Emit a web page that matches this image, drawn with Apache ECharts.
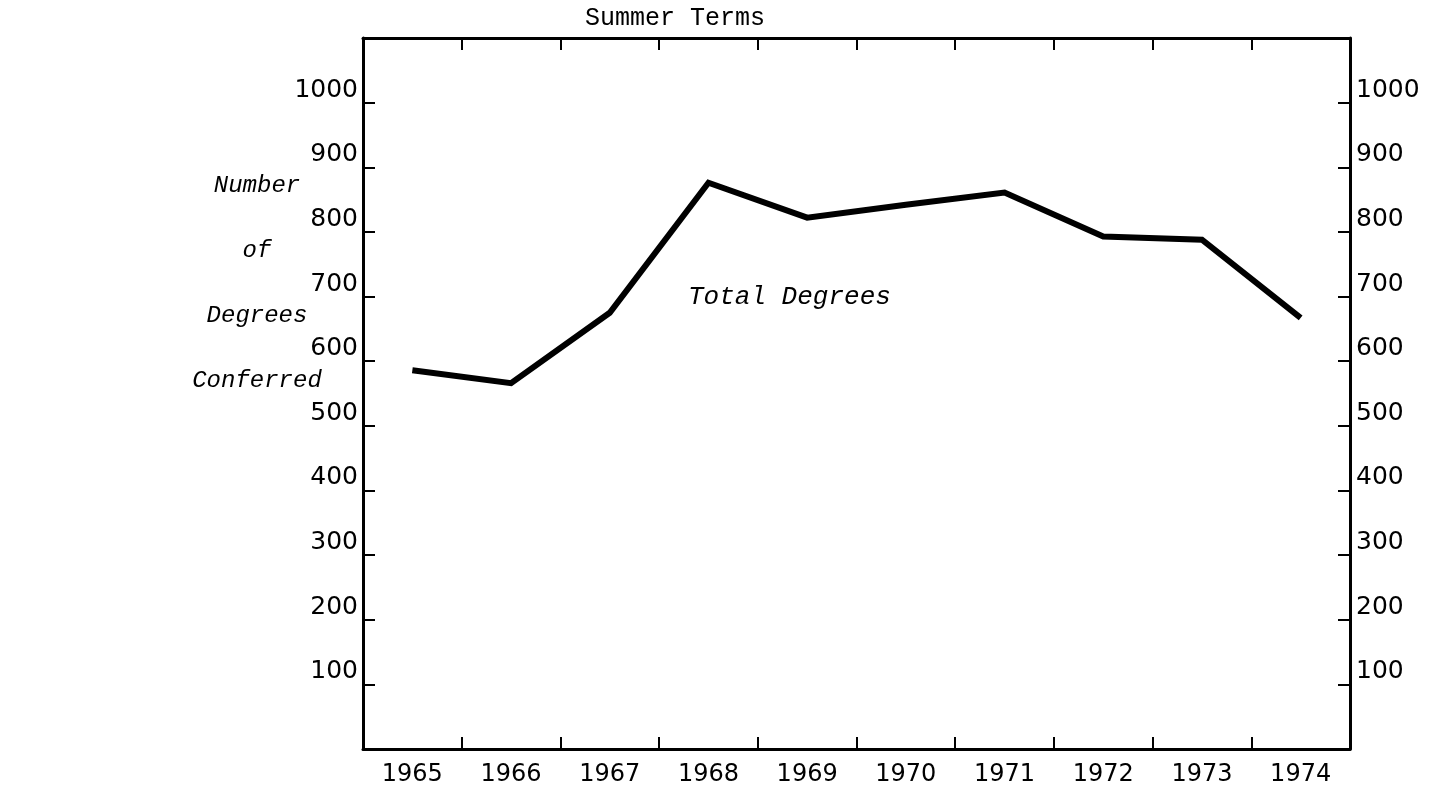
<!DOCTYPE html>
<html>
<head>
<meta charset="utf-8">
<title>Summer Terms</title>
<script src="https://cdn.jsdelivr.net/npm/echarts@6/dist/echarts.min.js"></script>
<style>
  html, body { margin: 0; padding: 0; background: #fff; }
  #chart { width: 1437px; height: 787px; }
</style>
</head>
<body>
<div id="chart"></div>
<script>
  // data
  const years = ['1965', '1966', '1967', '1968', '1969', '1970', '1971', '1972', '1973', '1974'];
  const totalDegrees = [586, 566, 675, 876, 822, 842, 861, 793, 788, 667];
  const yTitleLines = ['Number', 'of', 'Degrees', 'Conferred'];
  const chartTitle = 'Summer Terms';
  const seriesLabel = 'Total Degrees';

  const numFont = 'DejaVu Sans';
  const typeFont = 'Liberation Mono';

  const chart = echarts.init(document.getElementById('chart'));

  const yAxisBase = {
    type: 'value',
    min: 0,
    max: 1100,
    interval: 100,
    splitLine: { show: false },
    axisLine: { show: true, onZero: false, lineStyle: { color: '#000', width: 3 } },
    axisTick: { show: true, inside: true, length: 12, lineStyle: { color: '#000', width: 2 } },
    axisLabel: {
      show: true,
      color: '#000',
      fontFamily: numFont,
      fontSize: 25,
      verticalAlign: 'bottom',
      formatter: (v) => (v === 0 || v === 1100 ? '' : String(v)),
    },
  };

  const xAxisBase = {
    type: 'category',
    data: years,
    boundaryGap: true,
    splitLine: { show: false },
    axisLine: { show: true, onZero: false, lineStyle: { color: '#000', width: 3 } },
    axisTick: { show: true, inside: true, length: 12, lineStyle: { color: '#000', width: 2 } },
  };

  // y axis title, one word per line, like the typed original
  const graphics = yTitleLines.map((t, i) => ({
    type: 'text',
    x: 257,
    y: 186 + i * 65,
    style: {
      text: t,
      fill: '#000',
      font: `italic 24px "${typeFont}"`,
      textAlign: 'center',
      textVerticalAlign: 'middle',
    },
  }));

  graphics.push({
    type: 'text',
    x: 675,
    y: 18,
    style: {
      text: chartTitle,
      fill: '#000',
      font: `25px "${typeFont}"`,
      textAlign: 'center',
      textVerticalAlign: 'middle',
    },
  });

  graphics.push({
    type: 'text',
    x: 688,
    y: 297,
    style: {
      text: seriesLabel,
      fill: '#000',
      font: `italic 26px "${typeFont}"`,
      textAlign: 'left',
      textVerticalAlign: 'middle',
    },
  });

  chart.setOption({
    backgroundColor: '#fff',
    animation: false,
    grid: { left: 363, right: 87, top: 38, bottom: 36, containLabel: false },
    xAxis: [
      {
        ...xAxisBase,
        position: 'bottom',
        axisLabel: { color: '#000', fontFamily: numFont, fontSize: 24, margin: 14, interval: 0 },
      },
      {
        ...xAxisBase,
        position: 'top',
        axisLabel: { show: false },
      },
    ],
    yAxis: [
      { ...yAxisBase, position: 'left', axisLabel: { ...yAxisBase.axisLabel, margin: 5 } },
      { ...yAxisBase, position: 'right', axisLabel: { ...yAxisBase.axisLabel, margin: 6 } },
    ],
    graphic: graphics,
    series: [
      {
        name: seriesLabel,
        type: 'line',
        data: totalDegrees,
        xAxisIndex: 0,
        yAxisIndex: 0,
        symbol: 'none',
        lineStyle: { color: '#000', width: 6, join: 'miter' },
      },
    ],
  });
</script>
</body>
</html>
